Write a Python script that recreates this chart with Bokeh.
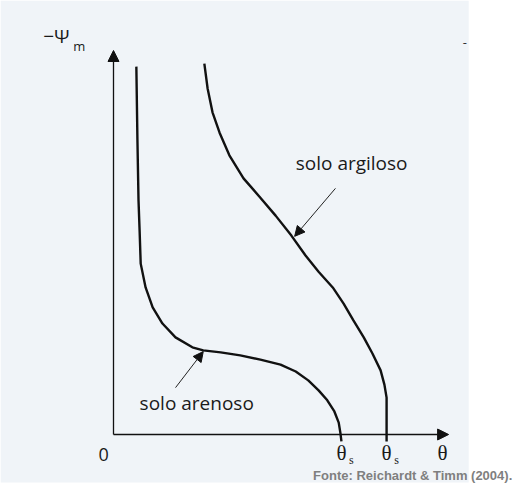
from bokeh.plotting import figure
from bokeh.models import Range1d, Arrow, NormalHead, BoxAnnotation, Label
from bokeh.embed import file_html
from bokeh.resources import INLINE

# Schematic retention curves (theta, -psi_m)
sandy_theta = [0.042, 0.044, 0.046, 0.048, 0.050, 0.059, 0.072, 0.090, 0.114, 0.145,
               0.165, 0.197, 0.233, 0.270, 0.307, 0.335, 0.358, 0.377, 0.393, 0.406,
               0.414, 0.417, 0.419]
sandy_psi = [9.58, 7.66, 6.09, 5.31, 4.45, 3.83, 3.31, 2.89, 2.53, 2.27,
             2.19, 2.14, 2.06, 1.95, 1.82, 1.64, 1.41, 1.15, 0.89, 0.60,
             0.31, 0.05, -0.18]

clay_theta = [0.167, 0.173, 0.182, 0.195, 0.213, 0.239, 0.268, 0.298, 0.327, 0.353,
              0.377, 0.403, 0.423, 0.441, 0.460, 0.476, 0.491, 0.498, 0.502, 0.502]
clay_psi = [9.66, 9.01, 8.39, 7.86, 7.27, 6.67, 6.20, 5.70, 5.18, 4.66,
            4.24, 3.83, 3.41, 2.97, 2.53, 2.11, 1.67, 1.30, 0.96, -0.18]

theta_s = [0.419, 0.502]
axis_theta_max = 0.616
axis_psi_max = 10.0

curve_labels = ["solo argiloso", "solo arenoso"]
label_x = [0.335, 0.048]
label_y = [7.08, 0.83]
pointer_start = [(0.408, 6.41), (0.114, 1.22)]
pointer_end = [(0.333, 5.16), (0.165, 2.16)]

W, H = 513, 483
x0, x1 = -0.20772, 0.73529
y0, y1 = -1.276, 11.302

p = figure(width=W, height=H, output_backend="svg", toolbar_location=None,
           x_range=Range1d(x0, x1), y_range=Range1d(y0, y1),
           min_border=0, min_border_left=0, min_border_right=0,
           min_border_top=0, min_border_bottom=0)
p.axis.visible = False
p.grid.visible = False
p.outline_line_color = None
p.background_fill_color = "white"
p.border_fill_color = "white"

# scanned page background
p.add_layout(BoxAnnotation(left=x0, right=0.653, bottom=-1.25, top=y1,
                           fill_color="#f0f4f8", fill_alpha=1.0, line_color=None,
                           level="underlay"))

# axes with arrowheads
p.add_layout(Arrow(x_start=0, y_start=0, x_end=0, y_end=axis_psi_max,
                   line_color="#111111", line_width=1.3,
                   end=NormalHead(size=11, fill_color="#111111", line_color="#111111")))
p.add_layout(Arrow(x_start=0, y_start=0, x_end=axis_theta_max, y_end=0,
                   line_color="#111111", line_width=1.3,
                   end=NormalHead(size=11, fill_color="#111111", line_color="#111111")))

# curves
p.line(sandy_theta, sandy_psi, line_color="#111111", line_width=2.4, line_join="round")
p.line(clay_theta, clay_psi, line_color="#111111", line_width=2.4, line_join="round")

# curve labels + pointers
for txt, lx, ly, s, e in zip(curve_labels, label_x, label_y, pointer_start, pointer_end):
    p.add_layout(Label(x=lx, y=ly, text=txt, text_font="Open Sans", text_font_size="19px",
                       text_color="#1a1a1a", text_baseline="middle", text_align="left"))
    p.add_layout(Arrow(x_start=s[0], y_start=s[1], x_end=e[0], y_end=e[1],
                       line_color="#222222", line_width=1.0,
                       end=NormalHead(size=10, fill_color="#111111", line_color="#111111")))

# axis texts
p.add_layout(Label(x=-0.129, y=10.39, text="−Ψ", text_font="Open Sans", text_font_size="19px",
                   text_color="#1a1a1a", text_baseline="middle"))
p.add_layout(Label(x=-0.074, y=10.13, text="m", text_font="Open Sans", text_font_size="13px",
                   text_color="#1a1a1a", text_baseline="middle"))
p.add_layout(Label(x=0.642, y=10.21, text="-", text_font="Open Sans", text_font_size="13px",
                   text_color="#333333", text_baseline="middle"))
p.add_layout(Label(x=-0.018, y=-0.52, text="0", text_font="Open Sans", text_font_size="18px",
                   text_color="#1a1a1a", text_baseline="middle", text_align="center"))
for ts in theta_s:
    p.add_layout(Label(x=ts, y=-0.49, text="θ", text_font="Liberation Serif", text_font_size="21px",
                       text_color="#1a1a1a", text_baseline="middle", text_align="center"))
    p.add_layout(Label(x=ts + 0.014, y=-0.66, text="s", text_font="Liberation Serif",
                       text_font_size="12px", text_color="#1a1a1a",
                       text_baseline="middle", text_align="left"))
p.add_layout(Label(x=0.605, y=-0.49, text="θ", text_font="Liberation Serif", text_font_size="21px",
                   text_color="#1a1a1a", text_baseline="middle", text_align="center"))

# source note
p.add_layout(Label(x=0.733, y=-1.25, text="Fonte: Reichardt & Timm (2004).",
                   text_font="Liberation Sans", text_font_style="bold", text_font_size="13px",
                   text_color="#7f7f7f", text_baseline="bottom", text_align="right"))

open("out.html", "w").write(file_html(p, INLINE))
